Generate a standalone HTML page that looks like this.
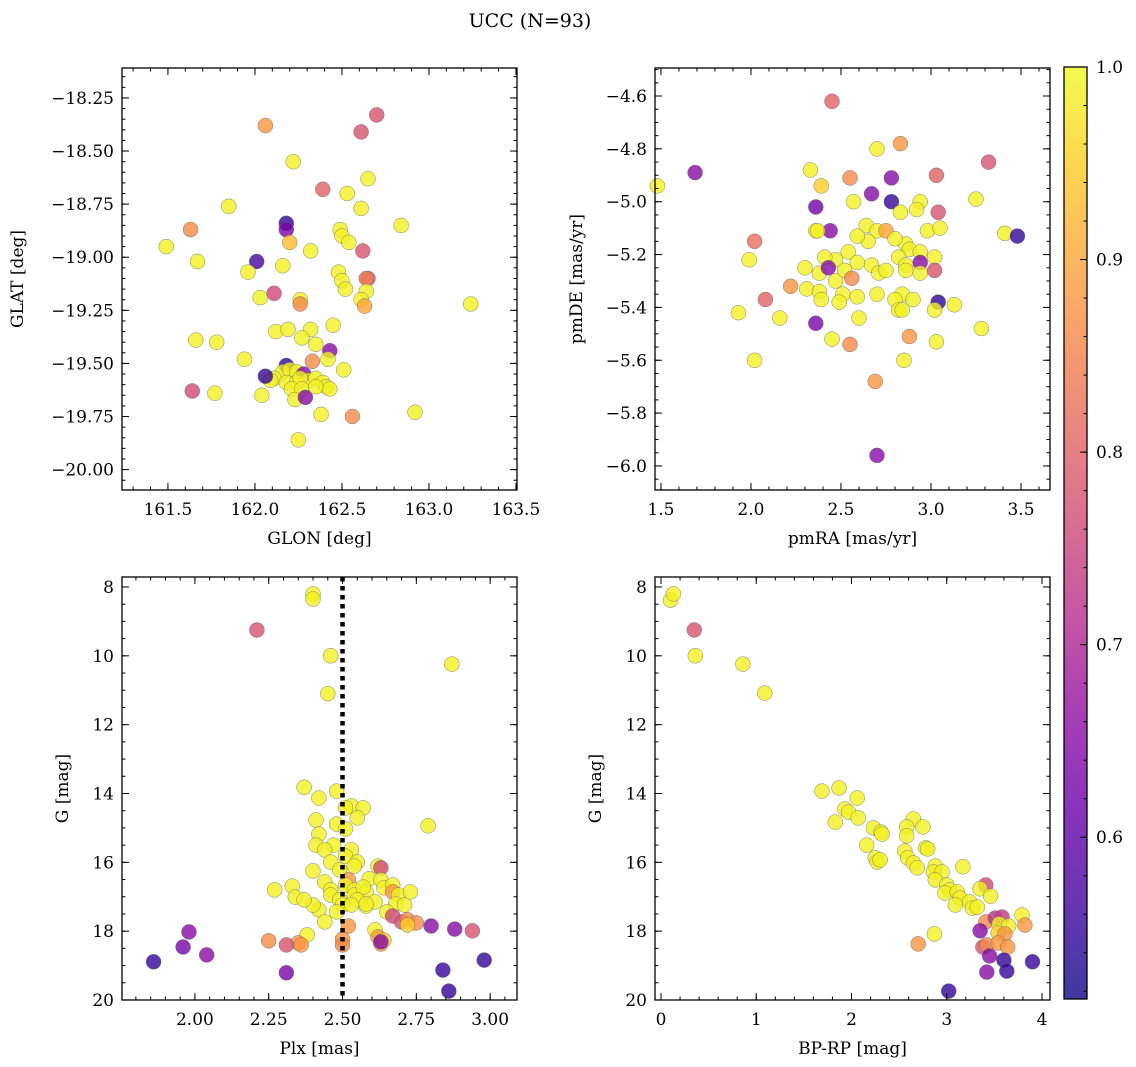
<!DOCTYPE html>
<html><head><meta charset="utf-8"><style>
body{margin:0;background:#fff}
svg{display:block;font-family:"DejaVu Serif","Liberation Serif",serif}
</style></head><body>
<svg id="fig" width="1136" height="1067" viewBox="0 0 1136 1067">
<defs>
<linearGradient id="cbgrad" x1="0" y1="1" x2="0" y2="0">
<stop offset="0" stop-color="#0d0887"/><stop offset="0.1" stop-color="#41049d"/><stop offset="0.2" stop-color="#6a00a8"/><stop offset="0.3" stop-color="#8f0da4"/><stop offset="0.4" stop-color="#b12a90"/><stop offset="0.5" stop-color="#cc4778"/><stop offset="0.6" stop-color="#e16462"/><stop offset="0.7" stop-color="#f2844b"/><stop offset="0.8" stop-color="#fca636"/><stop offset="0.9" stop-color="#fcce25"/><stop offset="1" stop-color="#f0f921"/>
</linearGradient>
</defs>
<text x="530" y="27" font-size="19" text-anchor="middle">UCC (N=93)</text>
</svg>
<script>
// ---- data ----
const glon=[162.06,162.70,162.61,162.22,162.65,162.39,162.53,162.61,161.85,162.84,162.18,162.18,161.63,162.49,162.50,162.54,162.20,162.32,161.49,162.62,161.67,162.01,162.16,161.96,162.48,162.65,162.64,162.50,162.64,162.52,162.03,162.11,162.26,162.26,162.61,162.63,163.24,162.45,162.32,162.12,162.19,162.27,161.66,161.78,162.35,162.43,162.42,161.94,162.33,162.51,162.18,162.16,162.20,162.24,162.28,162.31,162.35,162.39,162.41,162.11,162.09,162.18,162.24,162.26,162.21,162.27,162.23,162.29,162.43,162.35,162.06,161.64,161.77,162.04,162.38,162.56,162.92,162.25];
const glat=[-18.38,-18.33,-18.41,-18.55,-18.63,-18.68,-18.70,-18.77,-18.76,-18.85,-18.84,-18.87,-18.87,-18.87,-18.90,-18.93,-18.93,-18.97,-18.95,-18.97,-19.02,-19.02,-19.04,-19.07,-19.07,-19.10,-19.10,-19.11,-19.16,-19.15,-19.19,-19.17,-19.20,-19.22,-19.20,-19.23,-19.22,-19.32,-19.34,-19.35,-19.34,-19.38,-19.39,-19.40,-19.41,-19.44,-19.48,-19.48,-19.49,-19.53,-19.51,-19.54,-19.53,-19.54,-19.55,-19.58,-19.57,-19.59,-19.61,-19.57,-19.58,-19.59,-19.59,-19.57,-19.62,-19.62,-19.67,-19.66,-19.62,-19.61,-19.56,-19.63,-19.64,-19.65,-19.74,-19.75,-19.73,-19.86];
const prob1=[0.88,0.78,0.78,0.99,0.99,0.80,0.99,0.99,0.99,0.99,0.55,0.63,0.86,0.99,0.99,0.99,0.93,0.99,0.99,0.78,0.99,0.57,0.99,0.99,0.99,0.78,0.84,0.99,0.99,0.99,0.99,0.76,0.99,0.86,0.99,0.90,0.99,0.99,0.99,0.99,0.99,0.99,0.99,0.99,0.99,0.65,0.99,0.99,0.86,0.99,0.55,0.99,0.99,0.99,0.65,0.99,0.99,0.99,0.99,0.99,0.99,0.99,0.99,0.99,0.99,0.99,0.99,0.65,0.99,0.99,0.55,0.76,0.99,0.99,0.99,0.86,0.99,0.99];

const pmra=[2.45,1.48,1.69,3.32,2.70,2.83,2.33,2.55,2.39,2.78,3.03,3.25,2.94,2.92,2.57,2.67,2.36,3.04,2.78,2.83,2.44,2.36,2.37,2.64,2.70,2.75,2.86,2.98,3.05,3.41,3.48,2.02,2.65,2.80,2.88,2.94,2.59,2.54,2.59,2.67,2.47,2.41,2.82,2.86,2.94,3.02,1.99,2.30,2.38,2.43,2.47,2.52,2.56,2.71,2.75,2.86,2.94,3.02,2.22,2.31,2.38,2.51,2.70,2.84,2.90,2.80,2.08,2.49,2.59,2.39,3.04,3.13,1.93,2.16,2.82,2.84,3.02,2.60,2.36,3.28,2.88,2.45,3.03,2.02,2.55,2.85,2.69,2.70];
const pmde=[-4.62,-4.94,-4.89,-4.85,-4.80,-4.78,-4.88,-4.91,-4.94,-4.91,-4.90,-4.99,-5.00,-5.03,-5.00,-4.97,-5.02,-5.04,-5.00,-5.04,-5.11,-5.11,-5.11,-5.09,-5.11,-5.11,-5.16,-5.11,-5.10,-5.12,-5.13,-5.15,-5.15,-5.14,-5.18,-5.19,-5.13,-5.19,-5.23,-5.24,-5.22,-5.21,-5.21,-5.24,-5.23,-5.21,-5.22,-5.25,-5.27,-5.25,-5.30,-5.26,-5.29,-5.27,-5.26,-5.26,-5.27,-5.26,-5.32,-5.33,-5.34,-5.35,-5.35,-5.35,-5.37,-5.37,-5.37,-5.38,-5.36,-5.37,-5.38,-5.39,-5.42,-5.44,-5.41,-5.41,-5.41,-5.44,-5.46,-5.48,-5.51,-5.52,-5.53,-5.60,-5.54,-5.60,-5.68,-5.96];
const prob2=[0.80,0.99,0.65,0.78,0.99,0.88,0.99,0.86,0.95,0.65,0.80,0.99,0.99,0.99,0.99,0.65,0.62,0.78,0.55,0.99,0.65,0.99,0.99,0.99,0.99,0.90,0.99,0.99,0.99,0.99,0.55,0.82,0.99,0.99,0.99,0.99,0.99,0.99,0.99,0.99,0.99,0.99,0.99,0.99,0.65,0.99,0.99,0.99,0.99,0.65,0.99,0.99,0.86,0.99,0.99,0.99,0.99,0.78,0.88,0.99,0.99,0.99,0.99,0.99,0.99,0.99,0.80,0.99,0.99,0.99,0.55,0.99,0.99,0.99,0.99,0.99,0.99,0.99,0.63,0.99,0.88,0.99,0.99,0.99,0.86,0.99,0.88,0.65];

const plx=[2.40,2.40,2.21,2.46,2.87,2.45,2.37,2.48,2.42,2.53,2.57,2.51,2.79,2.41,2.55,2.42,2.48,2.51,2.41,2.47,2.53,2.44,2.51,2.55,2.46,2.49,2.54,2.62,2.40,2.52,2.59,2.44,2.46,2.51,2.54,2.63,2.58,2.46,2.49,2.54,2.57,2.63,2.64,2.67,2.67,2.69,2.73,2.58,2.55,2.50,2.53,2.48,2.42,2.40,2.27,2.33,2.34,2.37,2.61,2.68,2.58,2.65,2.71,2.67,2.70,2.72,2.52,2.75,2.72,2.44,2.38,2.61,2.62,2.63,2.64,2.50,2.50,2.35,2.36,2.25,2.31,2.63,1.98,1.96,2.04,1.86,2.94,2.88,2.31,2.84,2.98,2.86,2.80];
const gmag3=[8.20,8.35,9.25,10.00,10.24,11.10,13.82,13.93,14.13,14.36,14.42,14.42,14.94,14.77,14.71,15.18,14.89,15.03,15.50,15.50,15.64,15.64,15.82,15.99,15.99,16.22,16.11,16.11,16.25,16.51,16.48,16.57,16.80,16.66,16.80,16.16,16.86,16.95,17.09,16.95,16.72,16.51,16.74,16.66,16.86,16.95,16.86,17.27,17.09,17.24,17.24,17.44,17.38,17.24,16.80,16.69,17.01,17.09,17.15,17.21,17.21,17.44,17.24,17.56,17.73,17.67,17.85,17.76,17.82,17.73,18.11,17.96,18.17,18.37,18.26,18.23,18.40,18.34,18.40,18.28,18.40,18.31,18.02,18.46,18.69,18.89,17.99,17.94,19.21,19.13,18.84,19.74,17.85];
const prob3=[0.99,0.99,0.78,0.99,0.99,0.99,0.99,0.99,0.99,0.99,0.99,0.99,0.99,0.99,0.99,0.99,0.99,0.99,0.99,0.99,0.99,0.99,0.99,0.99,0.99,0.99,0.99,0.99,0.99,0.88,0.99,0.99,0.99,0.99,0.99,0.76,0.99,0.99,0.99,0.99,0.99,0.99,0.99,0.99,0.88,0.99,0.99,0.99,0.99,0.99,0.99,0.99,0.99,0.99,0.99,0.99,0.99,0.99,0.99,0.99,0.99,0.99,0.99,0.76,0.78,0.86,0.88,0.86,0.95,0.99,0.99,0.99,0.88,0.88,0.95,0.88,0.86,0.88,0.88,0.86,0.78,0.65,0.65,0.63,0.65,0.55,0.78,0.65,0.63,0.55,0.55,0.55,0.65];

const bprp=[0.10,0.13,0.35,0.36,0.86,1.09,1.69,1.87,1.83,1.93,1.97,2.06,2.07,2.23,2.31,2.16,2.25,2.27,2.32,2.30,2.65,2.58,2.75,2.58,2.56,2.78,2.80,2.59,2.65,2.69,2.88,2.86,2.95,2.88,3.00,3.03,2.98,3.11,3.14,3.09,3.24,3.27,3.32,3.17,3.41,3.35,3.46,3.41,3.35,3.51,3.58,3.55,3.65,3.54,3.61,3.38,3.42,3.54,3.64,3.45,3.60,3.42,3.63,3.90,3.79,3.82,3.02,2.70,2.87];
const gmag4=[8.38,8.20,9.25,10.00,10.24,11.08,13.93,13.84,14.83,14.45,14.54,14.13,14.71,15.00,15.12,15.50,15.87,15.99,15.18,15.93,14.74,14.97,14.97,15.23,15.67,15.58,15.61,15.87,16.02,16.16,16.11,16.28,16.28,16.51,16.66,16.80,16.89,16.86,17.04,17.24,17.15,17.33,17.30,16.13,16.66,16.77,16.98,17.73,17.99,17.62,17.59,17.79,17.85,18.05,18.08,18.46,18.40,18.34,18.46,18.72,18.84,19.19,19.16,18.89,17.53,17.82,19.74,18.37,18.08];
const prob4=[0.99,0.99,0.78,0.99,0.99,0.99,0.99,0.99,0.99,0.99,0.99,0.99,0.99,0.99,0.99,0.99,0.99,0.99,0.99,0.99,0.99,0.99,0.99,0.99,0.99,0.99,0.99,0.99,0.99,0.99,0.99,0.99,0.99,0.99,0.99,0.99,0.99,0.99,0.99,0.99,0.99,0.99,0.99,0.99,0.76,0.99,0.99,0.86,0.65,0.72,0.74,0.99,0.99,0.95,0.88,0.78,0.86,0.88,0.88,0.65,0.55,0.65,0.55,0.55,0.99,0.88,0.55,0.88,0.99];

const plxRef=[2.5];
const cbTicks=[0.6,0.7,0.8,0.9,1.0];
const vmin=0.516, vmax=1.0;

// ---- helpers ----
const NS='http://www.w3.org/2000/svg';
const svg=document.getElementById('fig');
function mk(tag,attrs,parent){const e=document.createElementNS(NS,tag);for(const k in attrs)e.setAttribute(k,attrs[k]);(parent||svg).appendChild(e);return e;}
const stops=[[13,8,135],[65,4,157],[106,0,168],[143,13,164],[177,42,144],[204,71,120],[225,100,98],[242,132,75],[252,166,54],[252,206,37],[240,249,33]];
function plasma(v){let t=(v-vmin)/(vmax-vmin);t=Math.max(0,Math.min(1,t))*10;const i=Math.min(9,Math.floor(t)),f=t-i;const a=stops[i],b=stops[i+1];return 'rgb('+a.map((c,k)=>Math.round(c+(b[k]-c)*f)).join(',')+')';}
function fmtMinus(s){return s.replace('-','\u2212');}

function panel(p){
  const g=mk('g',{});
  
  
  const sx=v=>p.x0+(v-p.xmin)/(p.xmax-p.xmin)*(p.x1-p.x0);
  const sy=v=>p.y1+(v-p.yb)/(p.yt-p.yb)*(p.y0-p.y1);
  const pg=mk('g',{},g);
  
  
  for(let i=0;i<p.xs.length;i++){
    const c=mk('circle',{cx:sx(p.xs[i]).toFixed(1),cy:sy(p.ys[i]).toFixed(1),r:7.5,fill:plasma(p.cs[i]),'fill-opacity':0.8,stroke:'#666','stroke-width':0.5,'stroke-opacity':0.8},pg);
    
    
  }
  if(p.vline){p.vline.forEach(v=>{const l=mk('line',{x1:sx(v),x2:sx(v),y1:p.y0,y2:p.y1,stroke:'#000','stroke-width':4.5,'stroke-dasharray':'4.5,4.5'},g);
    
    });}
  const tg=mk('g',{stroke:'#000','stroke-width':1},g);
  function range(a,b,st){const out=[];const s=Math.ceil(Math.min(a,b)/st-1e-6),e=Math.floor(Math.max(a,b)/st+1e-6);for(let k=s;k<=e;k++)out.push(+(k*st).toFixed(6));return out;}
  range(p.xmin,p.xmax,p.xminor).forEach(v=>{const X=sx(v);mk('line',{x1:X,x2:X,y1:p.y1,y2:p.y1-3.5},tg);mk('line',{x1:X,x2:X,y1:p.y0,y2:p.y0+3.5},tg);});
  range(p.yb,p.yt,p.yminor).forEach(v=>{const Y=sy(v);mk('line',{x1:p.x0,x2:p.x0+3.5,y1:Y,y2:Y},tg);mk('line',{x1:p.x1,x2:p.x1-3.5,y1:Y,y2:Y},tg);});
  p.xticks.forEach((v,i)=>{const X=sx(v);mk('line',{x1:X,x2:X,y1:p.y1,y2:p.y1-7},tg);mk('line',{x1:X,x2:X,y1:p.y0,y2:p.y0+7},tg);
    const t=mk('text',{x:X,y:p.y1+25,'font-size':17,'text-anchor':'middle'},g);t.textContent=fmtMinus(p.xlabs[i]);
    
    });
  p.yticks.forEach((v,i)=>{const Y=sy(v);mk('line',{x1:p.x0,x2:p.x0+7,y1:Y,y2:Y},tg);mk('line',{x1:p.x1,x2:p.x1-7,y1:Y,y2:Y},tg);
    const t=mk('text',{x:p.x0-8,y:Y+6,'font-size':17,'text-anchor':'end'},g);t.textContent=fmtMinus(p.ylabs[i]);
    
    });
  const fr=mk('rect',{x:p.x0,y:p.y0,width:p.x1-p.x0,height:p.y1-p.y0,fill:'none',stroke:'#000','stroke-width':1.3},g);
  
  
  const xl=mk('text',{x:(p.x0+p.x1)/2,y:p.y1+54,'font-size':17,'text-anchor':'middle'},g);xl.textContent=p.xlabel;
  
  
  const yc=(p.y0+p.y1)/2;
  const yl=mk('text',{x:p.ylx,y:yc,'font-size':17,'text-anchor':'middle',transform:'rotate(-90 '+p.ylx+' '+yc+')'},g);yl.textContent=p.ylabel;
  
  
}

panel({name:'glon-glat-panel',x0:122,x1:517,y0:68,y1:490,xmin:161.236,xmax:163.506,yb:-20.096,yt:-18.109,
  xs:glon,ys:glat,cs:prob1,xticks:[161.5,162,162.5,163,163.5],xlabs:['161.5','162.0','162.5','163.0','163.5'],xminor:0.1,
  yticks:[-20,-19.75,-19.5,-19.25,-19,-18.75,-18.5,-18.25],ylabs:['-20.00','-19.75','-19.50','-19.25','-19.00','-18.75','-18.50','-18.25'],yminor:0.05,
  xlabel:'GLON [deg]',ylabel:'GLAT [deg]',ylx:23});
panel({name:'proper-motion-panel',x0:655,x1:1050,y0:68,y1:490,xmin:1.467,xmax:3.661,yb:-6.091,yt:-4.494,
  xs:pmra,ys:pmde,cs:prob2,xticks:[1.5,2,2.5,3,3.5],xlabs:['1.5','2.0','2.5','3.0','3.5'],xminor:0.1,
  yticks:[-6,-5.8,-5.6,-5.4,-5.2,-5,-4.8,-4.6],ylabs:['-6.0','-5.8','-5.6','-5.4','-5.2','-5.0','-4.8','-4.6'],yminor:0.05,
  xlabel:'pmRA [mas/yr]',ylabel:'pmDE [mas/yr]',ylx:582});
panel({name:'plx-g-panel',x0:122,x1:517,y0:577,y1:1000,xmin:1.753,xmax:3.091,yb:20,yt:7.71,
  xs:plx,ys:gmag3,cs:prob3,xticks:[2,2.25,2.5,2.75,3],xlabs:['2.00','2.25','2.50','2.75','3.00'],xminor:0.05,
  yticks:[8,10,12,14,16,18,20],ylabs:['8','10','12','14','16','18','20'],yminor:0.5,
  xlabel:'Plx [mas]',ylabel:'G [mag]',ylx:68,vline:plxRef});
panel({name:'cmd-panel',x0:655,x1:1050,y0:577,y1:1000,xmin:-0.063,xmax:4.084,yb:20,yt:7.71,
  xs:bprp,ys:gmag4,cs:prob4,xticks:[0,1,2,3,4],xlabs:['0','1','2','3','4'],xminor:0.2,
  yticks:[8,10,12,14,16,18,20],ylabs:['8','10','12','14','16','18','20'],yminor:0.5,
  xlabel:'BP-RP [mag]',ylabel:'G [mag]',ylx:601});

// colorbar
(function(){
  const g=mk('g',{});
  
  
  const x0=1064,x1=1087,y0=67,y1=999;
  mk('rect',{x:x0,y:y0,width:x1-x0,height:y1-y0,fill:'url(#cbgrad)','fill-opacity':0.8},g);
  mk('rect',{x:x0,y:y0,width:x1-x0,height:y1-y0,fill:'none',stroke:'#000','stroke-width':1.3},g);
  const sy=v=>y1-(v-vmin)/(vmax-vmin)*(y1-y0);
  for(let k=Math.ceil(vmin/0.02);k<=Math.floor(vmax/0.02+1e-6);k++){const Y=sy(k*0.02);mk('line',{x1:x1,x2:x1-3.5,y1:Y,y2:Y,stroke:'#000','stroke-width':1},g);}
  cbTicks.forEach(v=>{const Y=sy(v);mk('line',{x1:x1,x2:x1-7,y1:Y,y2:Y,stroke:'#000','stroke-width':1},g);
    const t=mk('text',{x:x1+9,y:Y+6,'font-size':17},g);t.textContent=v.toFixed(1);
    
    });
})();
</script>
</body></html>
